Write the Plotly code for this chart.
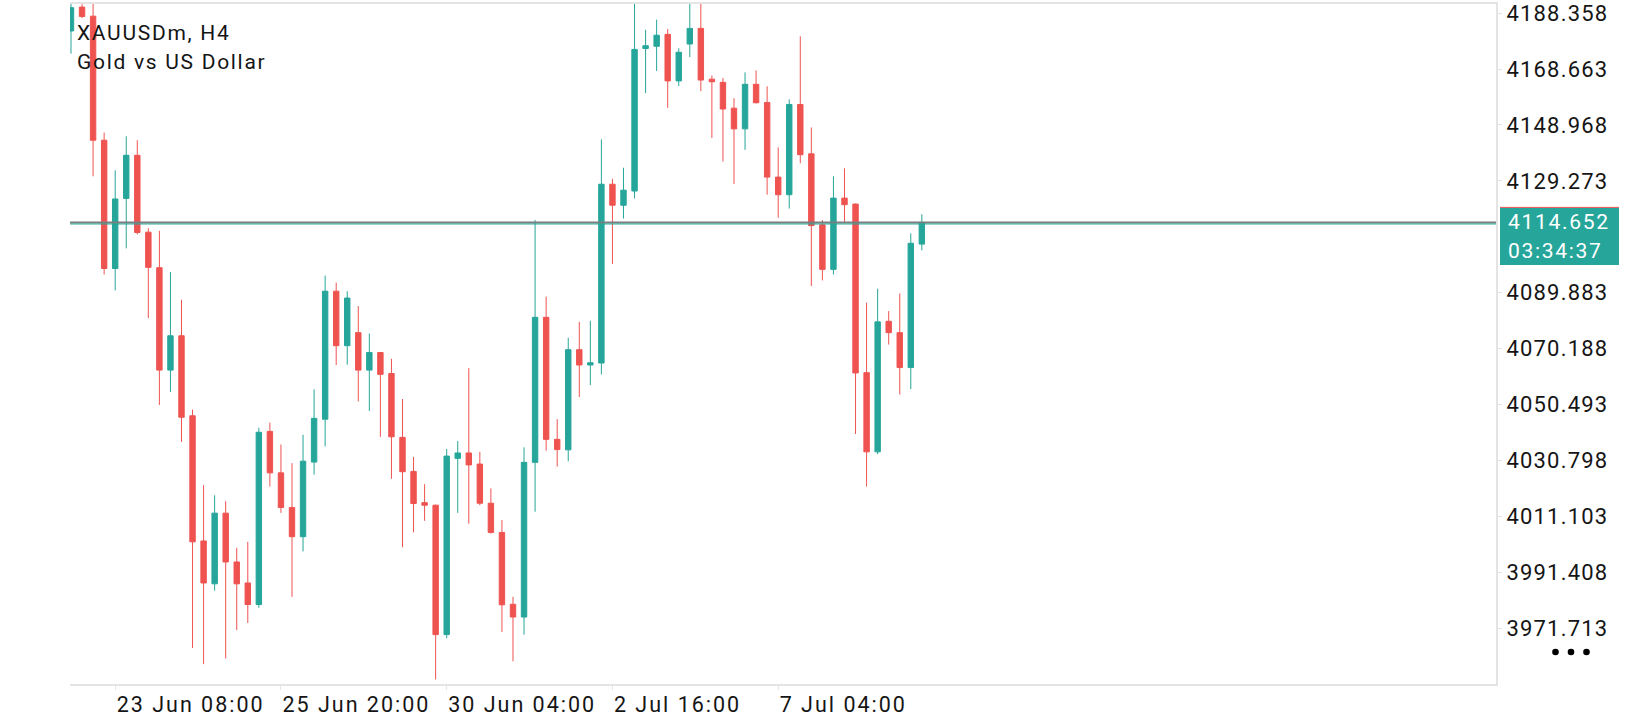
import plotly.graph_objects as go

# chart header
symbol = "XAUUSDm, H4"
description = "Gold vs US Dollar"

# H4 candles, oldest first
opens = [4182.1, 4190.5, 4187.3, 4143.6, 4098.4, 4123.1, 4138.3, 4111.2, 4098.7, 4062.6,
         4074.7, 4046.5, 4002.4, 3987.3, 4012.2, 3995.0, 3987.6, 3980.0, 4041.0, 4026.4,
         4014.2, 4003.9, 4030.2, 4045.3, 4090.4, 4071.2, 4075.8, 4062.6, 4068.8, 4061.4,
         4038.9, 4026.9, 4015.9, 4015.0, 3969.4, 4031.5, 4033.4, 4029.5, 4015.7, 4005.4,
         3980.1, 3975.6, 4030.1, 4081.2, 4038.2, 4034.5, 4069.8, 4064.4, 4065.1, 4128.1,
         4120.7, 4125.7, 4175.9, 4176.7, 4180.9, 4164.5, 4177.5, 4183.0, 4165.1, 4164.0,
         4154.9, 4147.6, 4163.3, 4156.9, 4130.6, 4124.4, 4156.2, 4138.8, 4113.8, 4098.1,
         4123.2, 4121.1, 4061.7, 4033.8, 4079.8, 4075.8, 4063.5, 4107.0]
highs = [4193.0, 4191.6, 4191.8, 4146.3, 4133.0, 4145.0, 4143.6, 4112.6, 4111.7, 4097.2,
         4087.4, 4048.7, 4022.1, 4018.5, 4016.4, 4000.0, 4002.1, 4042.3, 4044.1, 4036.4,
         4029.8, 4039.8, 4055.8, 4095.9, 4093.4, 4090.4, 4085.2, 4075.5, 4069.0, 4066.6,
         4052.4, 4032.0, 4022.4, 4015.2, 4034.8, 4037.6, 4063.3, 4033.8, 4020.9, 4009.8,
         3982.7, 4035.4, 4115.5, 4088.5, 4045.3, 4074.0, 4079.6, 4080.0, 4143.9, 4130.0,
         4133.9, 4193.0, 4182.5, 4186.1, 4182.8, 4176.0, 4192.5, 4193.0, 4166.4, 4165.5,
         4158.4, 4167.5, 4168.2, 4162.6, 4141.1, 4158.0, 4180.2, 4148.1, 4115.5, 4130.9,
         4133.7, 4121.3, 4086.4, 4091.3, 4083.4, 4089.6, 4110.8, 4117.5]
lows = [4174.1, 4186.6, 4130.9, 4096.3, 4090.7, 4105.5, 4110.4, 4080.9, 4050.3, 4054.9,
        4037.3, 3964.7, 3959.0, 3984.9, 3961.0, 3971.0, 3973.5, 3978.9, 4021.6, 4012.3,
        3982.7, 3998.7, 4025.8, 4035.7, 4064.4, 4064.5, 4051.6, 4048.2, 4039.1, 4024.3,
        4000.2, 4005.4, 4009.5, 3953.6, 3968.1, 4012.3, 4008.5, 4015.0, 4005.0, 3970.3,
        3960.0, 3969.4, 4012.7, 4034.2, 4028.6, 4030.5, 4053.1, 4057.3, 4061.1, 4100.0,
        4116.0, 4123.1, 4160.2, 4168.0, 4155.0, 4162.7, 4172.9, 4160.9, 4144.4, 4136.1,
        4128.2, 4140.2, 4156.6, 4124.4, 4116.3, 4119.5, 4135.5, 4092.2, 4094.2, 4096.3,
        4114.7, 4040.1, 4021.6, 4033.0, 4071.6, 4054.0, 4055.9, 4104.8]
closes = [4190.3, 4187.2, 4143.6, 4098.4, 4122.9, 4138.3, 4111.1, 4098.8, 4062.6, 4074.7,
          4046.0, 4002.1, 3987.6, 4012.2, 3995.0, 3987.3, 3980.0, 4040.7, 4026.4, 4014.2,
          4003.9, 4030.5, 4045.6, 4090.4, 4071.2, 4088.0, 4062.6, 4068.8, 4061.1, 4039.1,
          4026.8, 4015.6, 4015.0, 3969.4, 4032.3, 4033.4, 4029.2, 4015.7, 4005.4, 3979.9,
          3975.6, 4030.1, 4081.2, 4038.2, 4034.6, 4069.8, 4064.4, 4065.2, 4128.1, 4120.7,
          4126.0, 4175.6, 4176.9, 4180.6, 4164.5, 4174.6, 4183.0, 4164.8, 4164.2, 4154.6,
          4147.6, 4163.3, 4156.8, 4130.6, 4124.4, 4156.2, 4138.5, 4113.5, 4098.1, 4123.2,
          4120.9, 4061.6, 4033.8, 4079.6, 4075.8, 4063.5, 4107.3, 4114.652]

# time axis labels (bar index -> label)
tick_bars = [4, 19, 34, 49, 64]
tick_labels = ["23 Jun 08:00", "25 Jun 20:00", "30 Jun 04:00", "2 Jul 16:00", "7 Jul 04:00"]

# price scale labels (the one under the price box is hidden)
price_ticks = [4188.358, 4168.663, 4148.968, 4129.273, 4089.883, 4070.188,
               4050.493, 4030.798, 4011.103, 3991.408, 3971.713]

last_price = 4114.652
countdown = "03:34:37"

up_color = "#26a69a"
down_color = "#ef5350"
border_color = "#e4e4e4"
text_color = "#151515"
font_name = "Roboto"

bars = list(range(len(opens)))

fig = go.Figure()
fig.add_trace(go.Candlestick(
    x=bars, open=opens, high=highs, low=lows, close=closes,
    increasing=dict(line=dict(color=up_color, width=1), fillcolor=up_color),
    decreasing=dict(line=dict(color=down_color, width=1), fillcolor=down_color),
    hoverinfo="skip",
    showlegend=False,
))

# last price line (gray with a thin teal edge underneath)
fig.add_shape(type="line", xref="paper", x0=0, x1=1, yref="y", y0=last_price, y1=last_price,
              line=dict(color="#7d7d7d", width=2), layer="above")
fig.add_shape(type="line", xref="paper", x0=0, x1=1, yref="y", ysizemode="pixel",
              yanchor=last_price, y0=-1.6, y1=-1.6,
              line=dict(color=up_color, width=1), layer="above")

# price box on the right scale
fig.add_shape(type="rect", xref="paper", xsizemode="pixel", xanchor=1, x0=4, x1=123,
              yref="y", ysizemode="pixel", yanchor=last_price, y0=-42.5, y1=15,
              fillcolor=up_color, line=dict(width=0), layer="above")
fig.add_shape(type="line", xref="paper", xsizemode="pixel", xanchor=1, x0=4, x1=123,
              yref="y", ysizemode="pixel", yanchor=last_price, y0=15, y1=15,
              line=dict(color=down_color, width=1), layer="above")
fig.add_annotation(xref="paper", x=1, xanchor="left", xshift=10, yref="y", y=last_price,
                   yanchor="middle", text=f"{last_price:.3f}", showarrow=False, align="left",
                   font=dict(family=font_name, size=21, color="white"))
fig.add_annotation(xref="paper", x=1, xanchor="left", xshift=10, yref="y", y=last_price,
                   yanchor="middle", yshift=-28.5, text=countdown, showarrow=False, align="left",
                   font=dict(family=font_name, size=21, color="white"))

# header text
fig.add_annotation(xref="paper", x=0, xanchor="left", xshift=5, yref="paper", y=1,
                   yanchor="middle", yshift=-28.5, text=symbol, showarrow=False, align="left",
                   font=dict(family=font_name, size=21, color=text_color))
fig.add_annotation(xref="paper", x=0, xanchor="left", xshift=5, yref="paper", y=1,
                   yanchor="middle", yshift=-58, text=description, showarrow=False, align="left",
                   font=dict(family=font_name, size=21, color=text_color))

# menu dots under the price scale
for dx in [59.5, 75, 90.5]:
    fig.add_shape(type="circle", xref="paper", xsizemode="pixel", xanchor=1,
                  x0=dx - 3.3, x1=dx + 3.3, yref="paper", ysizemode="pixel", yanchor=0,
                  y0=32 - 3.3, y1=32 + 3.3, fillcolor="black", line=dict(width=0))

fig.update_layout(
    width=1640, height=720,
    margin=dict(l=70, r=144, t=2, b=36),
    paper_bgcolor="white", plot_bgcolor="white",
    font=dict(family=font_name, size=22, color=text_color),
    xaxis=dict(
        range=[-0.09, 128.96],
        rangeslider=dict(visible=False),
        showgrid=False, zeroline=False,
        showline=True, mirror=True, linecolor=border_color, linewidth=2,
        ticks="outside", ticklen=4, tickcolor=border_color,
        tickvals=tick_bars, ticktext=tick_labels,
        ticklabelposition="outside right",
        tickfont=dict(family=font_name, size=21.5, color=text_color),
    ),
    yaxis=dict(
        side="right",
        range=[3952.0, 4191.6],
        showgrid=False, zeroline=False,
        showline=True, linecolor=border_color, linewidth=2,
        ticks="outside", ticklen=4, tickcolor=border_color,
        tickvals=price_ticks, tickformat=".3f",
        tickfont=dict(family=font_name, size=22, color=text_color),
    ),
)

# page without the default body margin, and the wide letter spacing of the app
page_js = """
document.body.style.margin = '0';
var st = document.createElement('style');
st.textContent = '.xtick text{letter-spacing:2px} .ytick text{letter-spacing:1.2px} .annotation-text{letter-spacing:1.7px}';
document.head.appendChild(st);
"""

fig.write_html("out.html", post_script=page_js, config={"displayModeBar": False})
